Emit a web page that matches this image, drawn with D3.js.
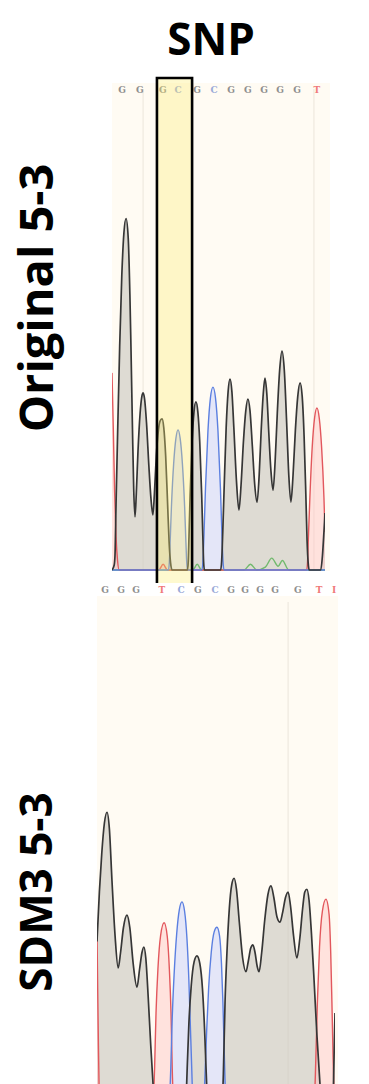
<!DOCTYPE html>
<html><head><meta charset="utf-8">
<script src="https://cdn.jsdelivr.net/npm/d3@7"></script>
<style>body{margin:0;background:#fff}svg{display:block}</style></head>
<body>
<script>
// ---------- data ----------
const title = "SNP";
const panelLabels = ["Original 5-3", "SDM3 5-3"];

// base calls (letters) and their scan positions (0-100 along each trace window)
const topBases = ["G","G","G","C","G","C","G","G","G","G","G","T"];
const topBasePos = [4.7,13.1,23.9,31.0,39.9,47.9,55.9,63.8,71.4,78.9,86.9,96.2];
const botBases = ["G","G","G","T","C","G","C","G","G","G","G","G","T","T"];
const botBasePos = [3.4,10.1,16.4,27.3,35.3,42.4,49.6,56.3,62.2,68.5,74.8,84.4,93.3,99.6];

// chromatogram traces: [scan position, signal]
const topG = [[0,0],[1,1],[1.4,3],[1.9,14],[2.7,30],[3.6,47],[4.6,62],[5.6,71],[6.6,74],[7.6,70],[8.4,58],[8.9,47],[9.6,30],[10.2,17],[10.8,11.2],[11.4,16],[12.2,25],[13.2,33],[14,36.5],[14.6,37.3],[15.3,36],[16.2,31],[17.3,22],[18.3,15],[19.2,11.6],[19.9,16],[20.8,24],[21.8,29.5],[22.7,31.5],[23.5,31.8],[24.3,30],[25.2,24],[26.1,14],[26.8,6],[27.5,1.5],[28.2,0],[35.4,0],[35.8,1.8],[36.15,7.1],[36.7,15.9],[37.6,26.9],[38.5,33.3],[39.4,35.4],[40.3,33.3],[41.2,26.9],[42.1,15.9],[42.65,7.1],[43,1.8],[43.4,0],[51,0],[51.5,2],[52,8],[52.7,18],[53.6,30],[54.5,37.5],[55.4,40.2],[56.3,37.5],[57.2,30],[58.4,19],[59.6,12.6],[60.6,18],[61.7,27],[62.8,33.5],[63.8,36],[64.8,33.5],[65.9,26],[67,18],[68.1,14.3],[69.1,20],[70,29],[71,37],[71.8,40.4],[72.7,37],[73.6,29],[74.6,21],[75.6,16.8],[76.6,23],[77.6,33],[78.7,42],[79.8,46.1],[80.9,42],[82,31],[83,20],[84,14.3],[85,20],[86.1,29.5],[87.2,36.5],[88.3,39.4],[89.3,36.5],[90.2,28],[91,16],[91.6,6],[92.1,1.5],[92.6,0],[98,0],[98.8,3],[99.5,8],[100,12]];
const topC = [[0,0],[26.5,0],[26.9,1.5],[27.3,5.9],[27.9,13.3],[28.95,22.4],[30,27.7],[31,29.5],[32,27.7],[33.05,22.4],[34.1,13.3],[34.7,5.9],[35.1,1.5],[35.5,0],[42.2,0],[42.7,1.9],[43.2,7.7],[43.9,17.3],[45.05,29.3],[46.2,36.2],[47.4,38.5],[48.6,36.2],[49.75,29.3],[50.9,17.3],[51.6,7.7],[52.1,1.9],[52.6,0],[100,0]];
const topT = [[0,41.5],[0.6,30],[1.2,17],[1.9,7],[2.6,2],[3.4,0],[22,0],[24,1.2],[26,0],[91.4,0],[91.8,1.7],[92.2,6.8],[92.9,15.3],[94,25.9],[95.1,32],[96.2,34.1],[97.3,32],[98.4,25.9],[99.5,15.3],[100,8]];
const topA = [[0,0],[38,0],[40,1.2],[42,0],[62,0],[65,1.2],[68,0],[72,0.6],[75,2.5],[78,0.8],[80,2],[83,0],[100,0]];

const botG = [[0,47],[1,56],[2,63],[3.1,68.5],[4.2,70.5],[5.2,67.5],[6.3,58],[7.6,48],[8.9,42.2],[9.9,45],[11.1,49.5],[12.6,51.8],[13.8,49.5],[15.2,43],[16.8,38.7],[17.9,42],[18.9,45],[19.7,46],[20.5,44],[21.5,37],[22.6,28],[23.7,20],[25,12],[26.5,5],[28,1],[29.5,0],[35,0],[36.3,6],[37.2,15],[37.9,24],[38.6,32],[39.6,39],[40.8,43.3],[42,44.4],[43.2,43],[44.3,38.5],[45.2,31],[45.9,23],[46.7,14],[47.6,6],[48.8,0],[50,0],[51.3,6],[52.3,14],[53.1,23],[53.8,36],[54.6,45],[55.6,53],[56.6,57.3],[57.6,58.5],[58.6,56.5],[59.8,50.5],[61.2,44],[62.6,41.5],[63.6,43.5],[64.6,45.8],[65.5,46.4],[66.4,45],[67.3,42.5],[68.1,41.5],[69.2,45],[70.5,51],[71.8,55.5],[73.1,57.1],[74.3,55],[75.6,51.5],[76.9,50.5],[78,52.3],[79.2,55],[80.3,56],[81.3,53.5],[82.6,48],[84,44],[85.2,47.5],[86.4,53],[87.3,56],[88.2,56.5],[89.1,54.5],[90.1,48.5],[91.2,40],[92.4,30],[93.7,21],[95,13],[96.5,5],[97.5,2],[98.5,8],[99.3,20],[100,34]];
const botC = [[0,0],[27.5,0],[29,5],[30.2,14],[31,24],[31.6,33],[32.4,41],[33.5,48.5],[34.6,52.8],[35.7,54.2],[36.8,52.5],[37.8,47.5],[38.6,40],[39.2,32],[39.8,24],[40.5,14],[41.6,5],[42,0],[43.5,5],[44.6,14],[45.4,23],[46.1,31],[46.9,38.5],[48,45],[49.2,48.7],[50.4,49.6],[51.5,48],[52.3,43],[52.9,36],[53.4,28],[53.9,20],[54.7,10],[55.8,3],[57,0],[100,0]];
const botT = [[0,48.5],[0.3,38],[0.6,28],[0.9,20],[1.5,10],[2.3,3],[3.2,0],[21,0],[22.5,5],[23.5,15],[24.2,24],[24.8,34],[25.6,42],[26.7,48],[28.2,50.4],[29.5,48],[30.4,42],[31.1,34],[31.6,24],[32.3,15],[33.3,5],[34.5,0],[88.5,0],[90,5],[91.2,15],[91.9,25],[92.6,36],[93.5,46],[94.7,52.5],[96.2,54.7],[97.5,52],[98.2,45],[98.7,36],[99.2,26],[99.8,16],[100,12]];
const botA = [[0,0],[100,0]];

// the highlighted SNP window, in top-panel scan units
const snpWindow = [21.1, 37.6];

// ---------- drawing ----------
const W = 369, H = 1084;
const svg = d3.select("body").append("svg").attr("width", W).attr("height", H);

const channelStyle = {
  G: {stroke: "#363636", fill: "rgba(205,201,193,0.65)"},
  T: {stroke: "#e2575c", fill: "rgba(255,196,196,0.45)"},
  C: {stroke: "#5b7fe0", fill: "rgba(196,204,255,0.45)"},
  A: {stroke: "#72ba6e", fill: "none"}
};
const baseColor = {G: "#8f8f8f", C: "#9aaad8", T: "#f07a7a", A: "#7cc07c"};

const panels = [
  {id: "top", bg: [112, 83, 330, 571], x: [112, 325], y: [570, 95],
   traces: {A: topA, C: topC, T: topT, G: topG}, bases: topBases, pos: topBasePos, letterY: 93,
   grid: [14.6, 94.8]},
  {id: "bot", bg: [97, 596, 338, 1084], x: [97, 335], y: [1200, 650],
   traces: {A: botA, C: botC, T: botT, G: botG}, bases: botBases, pos: botBasePos, letterY: 593,
   grid: [80.3]}
];

const defs = svg.append("defs");

panels.forEach(p => {
  const x = d3.scaleLinear().domain([0, 100]).range(p.x);
  const y = d3.scaleLinear().domain([0, 100]).range(p.y);
  p.xs = x; p.ys = y;
  const g = svg.append("g");
  g.append("rect").attr("x", p.bg[0]).attr("y", p.bg[1])
    .attr("width", p.bg[2] - p.bg[0]).attr("height", p.bg[3] - p.bg[1])
    .attr("fill", "#fffbf3");
  g.selectAll("line.grid").data(p.grid).join("line")
    .attr("x1", d => x(d)).attr("x2", d => x(d))
    .attr("y1", p.bg[1] + 6).attr("y2", p.bg[3])
    .attr("stroke", "#efe9df").attr("stroke-width", 1.2);

  defs.append("clipPath").attr("id", "clip-" + p.id)
    .append("rect").attr("x", p.x[0]).attr("y", p.bg[1])
    .attr("width", p.x[1] - p.x[0]).attr("height", Math.min(H, p.y[0]) - p.bg[1] + 1);

  const tg = g.append("g").attr("clip-path", `url(#clip-${p.id})`);
  const area = d3.area().x(d => x(d[0])).y0(y(0)).y1(d => y(d[1])).curve(d3.curveMonotoneX);
  const line = d3.line().x(d => x(d[0])).y(d => y(d[1])).curve(d3.curveMonotoneX);
  ["G", "T", "C"].forEach(k => {
    tg.append("path").datum(p.traces[k]).attr("d", area)
      .attr("fill", channelStyle[k].fill);
  });
  ["A", "T", "C", "G"].forEach(k => {
    tg.append("path").datum(p.traces[k]).attr("d", line)
      .attr("fill", "none").attr("stroke", channelStyle[k].stroke)
      .attr("stroke-width", k === "G" ? 1.7 : 1.4).attr("stroke-linejoin", "round");
  });

  g.selectAll("text.base").data(p.bases).join("text")
    .attr("x", (d, i) => x(p.pos[i])).attr("y", p.letterY)
    .attr("text-anchor", "middle")
    .attr("font-family", "DejaVu Serif").attr("font-weight", "bold")
    .attr("font-size", 9).attr("fill", d => baseColor[d])
    .text((d, i) => i === p.bases.length - 1 && p.id === "bot" ? "I" : d);
});

// SNP highlight window
const tx = panels[0].xs;
svg.append("rect").attr("x", tx(snpWindow[0])).attr("y", 78)
  .attr("width", tx(snpWindow[1]) - tx(snpWindow[0])).attr("height", 505)
  .attr("fill", "rgba(252,238,110,0.33)");
svg.append("path")
  .attr("d", `M${tx(snpWindow[0])},583V78H${tx(snpWindow[1])}V583`)
  .attr("fill", "none").attr("stroke", "#000").attr("stroke-width", 2.6);

// titles
svg.append("text").attr("x", 211).attr("y", 55).attr("text-anchor", "middle")
  .attr("font-family", "Open Sans").attr("font-weight", "bold").attr("font-size", 44)
  .attr("fill", "#000").text(title);

const labelSpecs = [[53, 298, 47], [52, 892, 44]];
panelLabels.forEach((t, i) => {
  const [lx, ly, fs] = labelSpecs[i];
  svg.append("text")
    .attr("transform", `translate(${lx},${ly}) rotate(-90)`)
    .attr("text-anchor", "middle")
    .attr("font-family", "Open Sans").attr("font-weight", "bold").attr("font-size", fs)
    .attr("fill", "#000").text(t);
});
</script>
</body></html>
